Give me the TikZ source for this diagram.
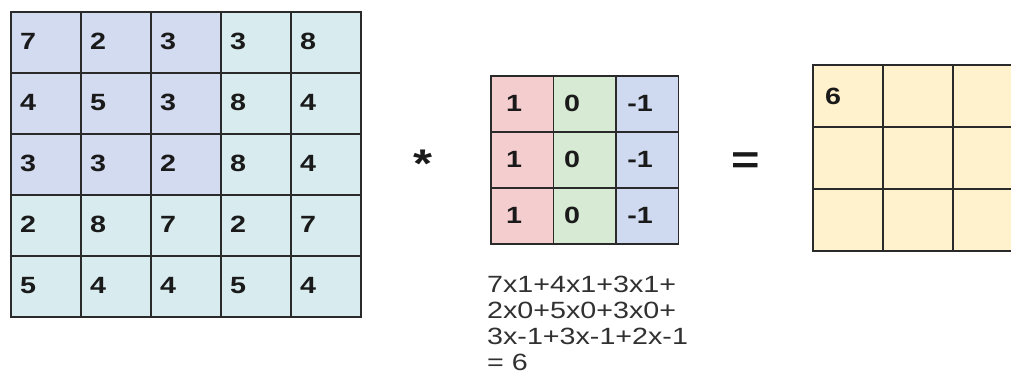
\documentclass[tikz,border=0pt]{standalone}
\usepackage{fontspec}
\setmainfont{Liberation Sans}[FakeStretch=1.22]
\definecolor{lav}{HTML}{D3DBF0}
\definecolor{cyn}{HTML}{D8ECEF}
\definecolor{kred}{HTML}{F4CECE}
\definecolor{kgrn}{HTML}{D7EAD4}
\definecolor{kblu}{HTML}{CFDAF0}
\definecolor{ylw}{HTML}{FFF2CC}
\definecolor{ink}{HTML}{1A1A1A}
\definecolor{gline}{HTML}{2A2A2A}
\begin{document}
\begin{tikzpicture}[x=1pt,y=-1pt,
  cellbox/.style={draw=gline, line width=1.7pt, inner sep=0pt, anchor=north west},
  numtxt/.style={font=\bfseries\fontsize{23.5}{23.5}\selectfont, text=ink, inner sep=0pt, anchor=center},
  optxt/.style={font=\bfseries\fontsize{40}{40}\selectfont, text=ink, inner sep=0pt, anchor=base},
  eqtxt/.style={font=\fontsize{23.5}{26}\selectfont, text=ink!90, inner sep=0pt, anchor=base west}]
\useasboundingbox (0,0) rectangle (1011,379);
\fill[white] (0,0) rectangle (1011,379);
\clip (0,0) rectangle (1011,379);
% input 5x5 grid
\foreach \r/\row in {1/{7,2,3,3,8},2/{4,5,3,8,4},3/{3,3,2,8,4},4/{2,8,7,2,7},5/{5,4,4,5,4}}{
  \foreach \v [count=\c] in \row {
    \pgfmathtruncatemacro\isb{and(\r<4,\c<4)}
    \ifnum\isb=1 \def\fc{lav}\else\def\fc{cyn}\fi
    \node[cellbox, fill=\fc, minimum width=70pt, minimum height=61pt] (a-\r-\c) at ({10+70*(\c-1)},{11+61*(\r-1)}) {};
    \node[numtxt] (na-\r-\c) at ({28+70*(\c-1)},{41.5+61*(\r-1)}) {\v};
  }
}
% operator
\node[optxt] (star) at (423,178) {*};
% kernel 3x3
\foreach \r in {1,2,3}{
  \foreach \c/\fc/\v/\tx in {1/kred/1/514,2/kgrn/0/572,3/kblu/-1/640}{
    \node[cellbox, fill=\fc, minimum width=62.5pt, minimum height=56pt] (k-\r-\c) at ({490+62.5*(\c-1)},{75+56*(\r-1)}) {};
    \node[numtxt] (nk-\r-\c) at (\tx,{103+56*(\r-1)}) {\v};
  }
}
% equals
\node[optxt] (eq) at (746,174) {=};
% output grid
\foreach \r in {1,2,3}{
  \foreach \c in {1,2,3}{
    \node[cellbox, fill=ylw, minimum width=70pt, minimum height=62pt] (o-\r-\c) at ({812+70*(\c-1)},{64+62*(\r-1)}) {};
  }
}
\node[numtxt] (no-1-1) at (833,96) {6};
% computation text
\node[eqtxt] (l1) at (487,292) {7x1+4x1+3x1+};
\node[eqtxt] (l2) at (487,318) {2x0+5x0+3x0+};
\node[eqtxt] (l3) at (487,344) {3x-1+3x-1+2x-1};
\node[eqtxt] (l4) at (487,370) {= 6};
\end{tikzpicture}
\end{document}
